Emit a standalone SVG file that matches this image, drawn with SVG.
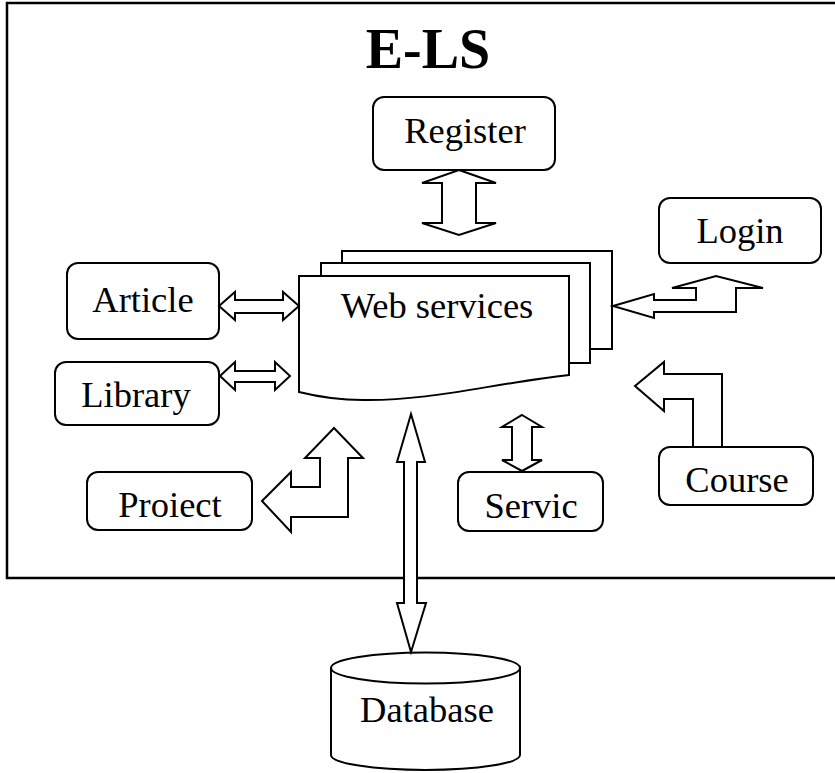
<svg xmlns="http://www.w3.org/2000/svg" width="835" height="773" viewBox="0 0 835 773">
  <style>
    .shape { fill: #fff; stroke: #000; stroke-width: 2; stroke-linejoin: miter; }
    .box { fill: #fff; stroke: #000; stroke-width: 2; }
    .arrow { fill: #fff; stroke: #000; stroke-width: 2; stroke-linejoin: miter; }
    .label { font-family: "Liberation Serif", "Times New Roman", serif; font-size: 36.5px; fill: #000; text-anchor: middle; }
    .title { font-family: "Liberation Serif", "Times New Roman", serif; font-size: 56px; font-weight: bold; fill: #000; text-anchor: middle; }
  </style>
  <defs>
    <clipPath id="clipLibrary"><rect x="55" y="362" width="164" height="55"/></clipPath>
  </defs>

  <rect width="835" height="773" fill="#fff"/>

  <!-- outer system frame -->
  <g id="frame">
    <rect x="7" y="3" width="840" height="575" fill="none" stroke="#000" stroke-width="2.5"/>
    <text class="title" x="428" y="68">E-LS</text>
  </g>

  <!-- central web services (stacked documents) -->
  <g id="web-services">
    <rect class="shape" x="342" y="251" width="270" height="98"/>
    <rect class="shape" x="321" y="263" width="269" height="100"/>
    <path class="shape" d="M299,276 H569 V375 C490,384 430,401 363,400 C335,400 315,396 299,392 Z"/>
    <text class="label" x="437" y="318">Web services</text>
  </g>

  <g id="register">
    <rect class="box" x="373" y="97" width="182" height="73" rx="11"/>
    <text class="label" x="465" y="143">Register</text>
  </g>

  <g id="login">
    <rect class="box" x="659" y="198" width="162" height="65" rx="11"/>
    <text class="label" x="740" y="243">Login</text>
  </g>

  <g id="article">
    <rect class="box" x="67" y="263" width="152" height="76" rx="11"/>
    <text class="label" x="143" y="312">Article</text>
  </g>

  <g id="library">
    <rect class="box" x="55" y="362" width="164" height="63" rx="11"/>
    <text class="label" x="136" y="407" clip-path="url(#clipLibrary)">Library</text>
  </g>

  <g id="project">
    <rect class="box" x="87" y="472" width="165" height="58" rx="11"/>
    <text class="label" x="170" y="517">Proiect</text>
  </g>

  <g id="servic">
    <rect class="box" x="458" y="472" width="145" height="59" rx="11"/>
    <text class="label" x="531" y="518">Servic</text>
  </g>

  <g id="course">
    <rect class="box" x="659" y="447" width="154" height="58" rx="11"/>
    <text class="label" x="737" y="492">Course</text>
  </g>

  <g id="database">
    <path class="shape" d="M331,668 V755 A94.5,15 0 0 0 520,755 V668"/>
    <ellipse class="shape" cx="425.5" cy="668" rx="94.5" ry="15.5"/>
    <text class="label" x="427" y="722">Database</text>
  </g>

  <!-- block arrows between the modules and the web services -->
  <g id="connectors">
    <polygon class="arrow" points="459,170 496,183 476,183 476,223 496,223 459,235 422,223 442,223 442,183 422,183"/>
    <polygon class="arrow" points="219,306 235,292 235,300 283,300 283,292 299,306 283,320 283,313 235,313 235,320"/>
    <polygon class="arrow" points="220,376 235,362 235,371 275,371 275,362 290,376 275,390 275,382 235,382 235,390"/>
    <polygon class="arrow" points="613,306 654,294 654,300 696,300 696,288 672,288 716,276 763,288 736,288 736,312 654,312 654,318"/>
    <polygon class="arrow" points="693,447 693,399 664,399 664,411 635,386 664,362 664,374 722,374 722,447"/>
    <polygon class="arrow" points="262,501 291,472 291,487 320,487 320,458 305,458 334,428 363,458 348,458 348,517 291,517 291,532"/>
    <polygon class="arrow" points="522,415 542,427 532,427 532,460 542,460 522,471 502,460 512,460 512,427 502,427"/>
    <polygon class="arrow" points="411,414 425,462 417,462 417,603 426,603 411,652 397,603 404,603 404,462 397,462"/>
  </g>
</svg>
